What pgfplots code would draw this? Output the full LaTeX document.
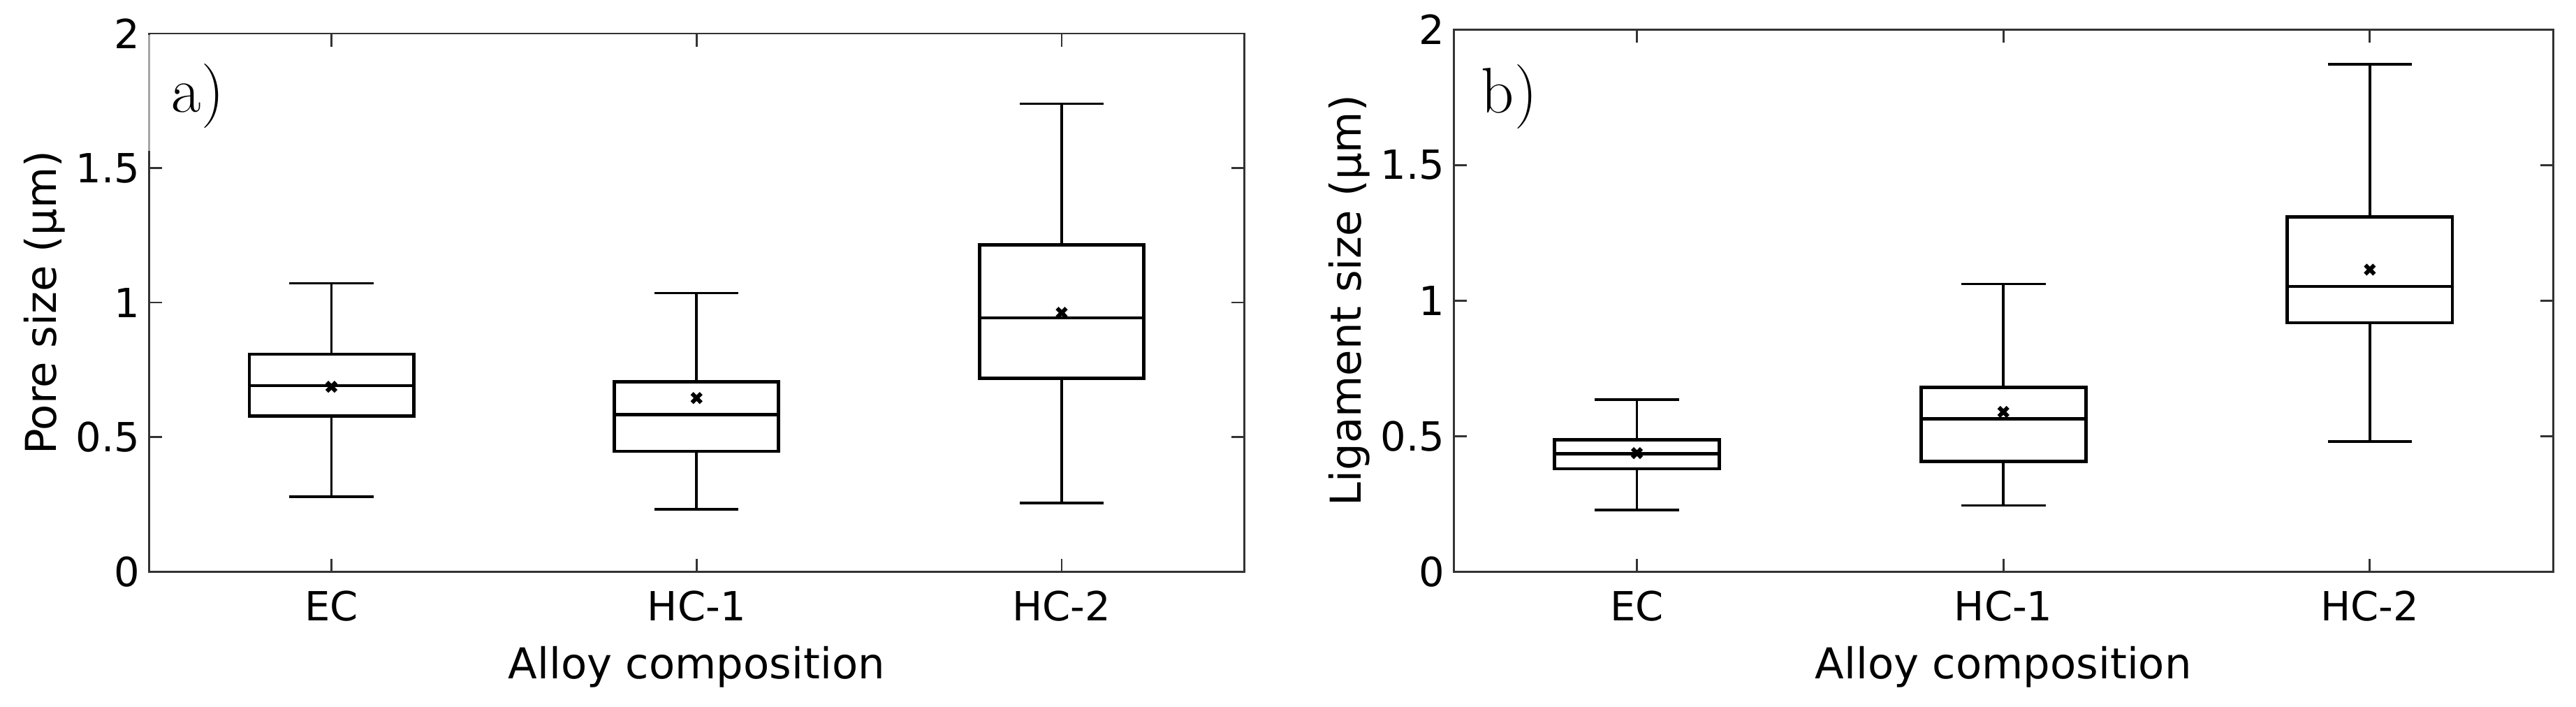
\documentclass[border=0pt]{standalone}
\usepackage{pgfplots}
\pgfplotsset{compat=1.18}
\usepgfplotslibrary{statistics}
\usepackage{fontspec}
\setmainfont{DejaVu Sans}
\newfontfamily\lmr{Latin Modern Roman}

\pgfplotsset{
  myax/.style={
    scale only axis,
    xmin=0.5, xmax=3.5, ymin=0, ymax=2,
    xtick={1,2,3}, xticklabels={EC,HC-1,HC-2},
    ytick={0,0.5,1,1.5,2}, yticklabels={0,0.5,1,1.5,2},
    tick align=inside, major tick length=5pt,
    axis line style={black!80, line width=0.75pt},
    every tick/.style={black!80, line width=0.75pt},
    tick label style={font=\fontsize{15.6}{18}\selectfont},
    xticklabel style={yshift=-4pt},
    label style={font=\fontsize{16.5}{19}\selectfont},
    xlabel={Alloy composition},
    xlabel style={at={(axis description cs:0.5,0)}, anchor=base, yshift=-41.5pt},
    ylabel style={at={([xshift=-36pt]axis description cs:0,0.5)}, anchor=base, rotate=0},
    boxplot/draw direction=y,
    boxplot/box extend=0.45, boxplot/whisker extend=0.23,
    boxplot/every box/.style={draw=black, line width=1.3pt},
    boxplot/every whisker/.style={black, line width=1.0pt},
    boxplot/every median/.style={black, line width=1.3pt},
    avg/.style={only marks, black, mark=x, mark size=2.5pt, mark options={line width=1.6pt, solid}},
  }
}

\begin{document}
\begin{tikzpicture}
\begin{axis}[myax, at={(57.8pt,52.3pt)}, anchor=south west,
  width=425.2pt, height=208.8pt, ylabel={Pore size (µm)}]
\addplot[black, boxplot prepared={draw position=1, lower whisker=0.279, lower quartile=0.579, median=0.691, upper quartile=0.808, upper whisker=1.072}] coordinates {};
\addplot[black, boxplot prepared={draw position=2, lower whisker=0.231, lower quartile=0.447, median=0.584, upper quartile=0.706, upper whisker=1.035}] coordinates {};
\addplot[black, boxplot prepared={draw position=3, lower whisker=0.254, lower quartile=0.719, median=0.943, upper quartile=1.214, upper whisker=1.739}] coordinates {};
\addplot[avg] coordinates {(1,0.687) (2,0.645) (3,0.962)};
\node[anchor=base west, inner sep=0pt, font=\lmr\fontsize{25}{30}\selectfont] at (rel axis cs:0.0204,0.854) {a)};
\end{axis}
\draw[black!35, line width=0.8pt] (57.8pt,215.6pt) -- (57.8pt,260.6pt);
\begin{axis}[myax, at={(564.3pt,52.3pt)}, anchor=south west,
  width=426.8pt, height=210.4pt, ylabel={Ligament size (µm)}]
\addplot[black, boxplot prepared={draw position=1, lower whisker=0.228, lower quartile=0.379, median=0.434, upper quartile=0.487, upper whisker=0.635}] coordinates {};
\addplot[black, boxplot prepared={draw position=2, lower whisker=0.244, lower quartile=0.407, median=0.564, upper quartile=0.680, upper whisker=1.061}] coordinates {};
\addplot[black, boxplot prepared={draw position=3, lower whisker=0.479, lower quartile=0.918, median=1.052, upper quartile=1.308, upper whisker=1.872}] coordinates {};
\addplot[avg] coordinates {(1,0.437) (2,0.589) (3,1.114)};
\node[anchor=base west, inner sep=0pt, font=\lmr\fontsize{25}{30}\selectfont] at (rel axis cs:0.0248,0.846) {b)};
\end{axis}
\pgfresetboundingbox
\path[use as bounding box] (0,0) rectangle (1000pt,274.13pt);
\end{tikzpicture}
\end{document}
